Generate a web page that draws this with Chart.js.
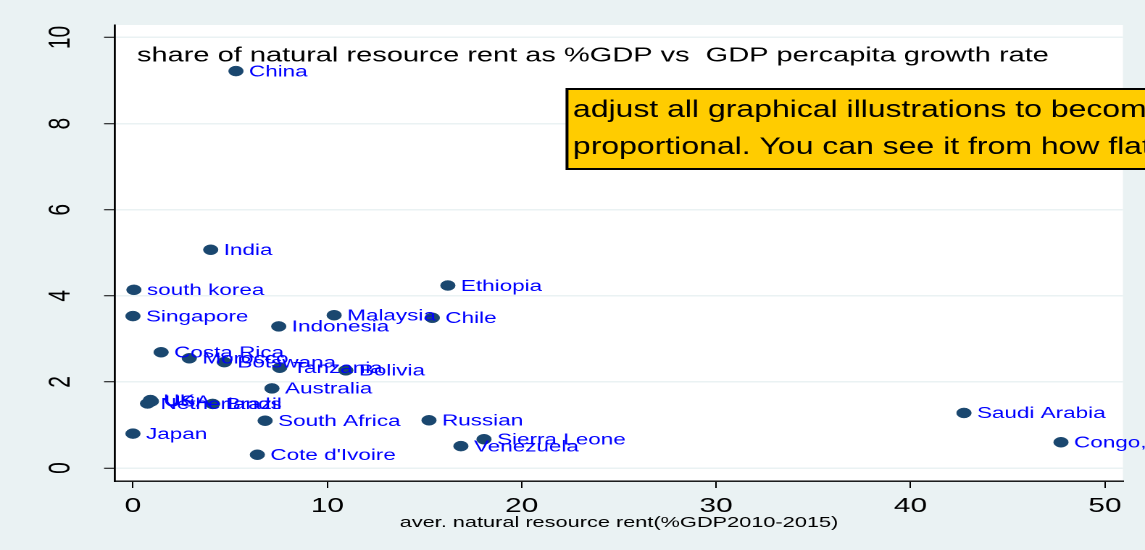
<!DOCTYPE html>
<html><head><meta charset="utf-8">
<script src="https://cdn.jsdelivr.net/npm/chart.js@4"></script>
<style>
html,body{margin:0;padding:0;overflow:hidden;background:#EAF2F3;width:1145px;height:550px}
#wrap{position:absolute;left:0;top:0;width:790px;height:550px;transform:scaleX(1.449367);transform-origin:0 0}
canvas{display:block}
</style></head><body>
<div id="wrap"><canvas id="c" width="790" height="550"></canvas></div>
<script>
const countries = ["China","India","south korea","Singapore","Ethiopia","Malaysia","Chile","Indonesia","Costa Rica","Morocco","Botswana","Tanzania","Bolivia","Australia","UK","USA","Netherlands","Brazil","South Africa","Japan","Cote d'Ivoire","Russian","Sierra Leone","Venezuela","Saudi Arabia","Congo,"];
const rentValues = [5.3,4.0,0.05,0.0,16.2,10.35,15.4,7.5,1.45,2.9,4.7,7.55,10.95,7.15,0.9,0.95,0.75,4.1,6.8,0.0,6.4,15.23,18.06,16.87,42.75,47.74];
const growthValues = [9.22,5.07,4.14,3.53,4.24,3.55,3.49,3.29,2.69,2.55,2.46,2.33,2.27,1.85,1.58,1.55,1.5,1.49,1.1,0.8,0.31,1.11,0.67,0.51,1.28,0.6];
const xTickValues = [0,10,20,30,40,50];
const yTickValues = [0,2,4,6,8,10];
const chartTitle = "share of natural resource rent as %GDP vs  GDP percapita growth rate";
const xAxisTitle = "aver. natural resource rent(%GDP2010-2015)";
const noteLines = ["adjust all graphical illustrations to become", "proportional. You can see it from how flat"];

const FONT = '"Liberation Sans", Arial, sans-serif';
const BG = '#EAF2F3';
const NAVY = '#1A476F';

const bgPlugin = {
  id: 'bgPlugin',
  beforeDraw(chart) {
    const {ctx, chartArea: a} = chart;
    ctx.save();
    ctx.fillStyle = BG;
    ctx.fillRect(0, 0, chart.width, chart.height);
    ctx.fillStyle = '#FFFFFF';
    ctx.fillRect(a.left, a.top, a.right - a.left, a.bottom - a.top);
    ctx.restore();
  }
};

const labelPlugin = {
  id: 'labelPlugin',
  afterDatasetsDraw(chart) {
    const ctx = chart.ctx;
    const meta = chart.getDatasetMeta(0);
    ctx.save();
    ctx.font = '15.5px ' + FONT;
    ctx.fillStyle = '#0000FF';
    ctx.textBaseline = 'middle';
    ctx.textAlign = 'left';
    meta.data.forEach((pt, i) => ctx.fillText(countries[i], pt.x + 9, pt.y + 1));
    ctx.restore();
  },
  afterDraw(chart) {
    const ctx = chart.ctx;
    const a = chart.chartArea;
    ctx.save();
    ctx.fillStyle = '#000';
    ctx.textBaseline = 'alphabetic';
    ctx.textAlign = 'left';
    ctx.font = '20px ' + FONT;
    ctx.fillText(chartTitle, a.left + 15.2, 61.5);
    // note box
    ctx.fillStyle = '#FFCC00';
    ctx.fillRect(391.2, 89, 420, 80);
    ctx.strokeStyle = '#000';
    ctx.lineWidth = 2;
    ctx.strokeRect(391.2, 89, 420, 80);
    ctx.fillStyle = '#000';
    ctx.font = '24.5px ' + FONT;
    const k = 0.9;
    ctx.translate(395.3, 0);
    ctx.scale(k, 1);
    ctx.fillText(noteLines[0], 0, 117);
    ctx.fillText(noteLines[1], 0, 154);
    ctx.restore();
  }
};

new Chart(document.getElementById('c'), {
  type: 'scatter',
  data: {
    datasets: [{
      data: rentValues.map((x, i) => ({x: x, y: growthValues[i]})),
      backgroundColor: NAVY,
      borderColor: NAVY,
      borderWidth: 0.5,
      pointRadius: 5,
      pointHoverRadius: 5
    }]
  },
  options: {
    responsive: false,
    animation: false,
    devicePixelRatio: 2,
    events: [],
    layout: {padding: {left: 0, right: 15.2, top: 25, bottom: 0}},
    plugins: {legend: {display: false}, tooltip: {enabled: false}, title: {display: false}},
    scales: {
      x: {
        type: 'linear',
        min: -0.926, max: 50.93,
        afterBuildTicks(s) { s.ticks = xTickValues.map(v => ({value: v})); },
        afterFit(s) { s.height = 69; s.paddingLeft = 0; s.paddingRight = 0; },
        border: {display: true, color: '#000', width: 1.4},
        grid: {display: true, drawOnChartArea: false, drawTicks: true, tickLength: 7, tickColor: '#000', tickWidth: 1},
        ticks: {color: '#000', font: {family: FONT, size: 20.5}, padding: 6, maxRotation: 0, autoSkip: false},
        title: {display: true, text: xAxisTitle, color: '#000', font: {family: FONT, size: 15}, padding: {top: 0, bottom: 18}}
      },
      y: {
        type: 'linear',
        min: -0.30, max: 10.29,
        afterBuildTicks(s) { s.ticks = yTickValues.map(v => ({value: v})); },
        afterFit(s) { s.width = 79.3; s.paddingTop = 0; s.paddingBottom = 0; },
        border: {display: true, color: '#000', width: 1.4},
        grid: {display: true, drawOnChartArea: true, color: BG, lineWidth: 1.5, drawTicks: true, tickLength: 7.5, tickColor: '#000', tickWidth: 1},
        ticks: {color: '#000', font: {family: FONT, size: 21}, padding: 18, minRotation: 90, maxRotation: 90, crossAlign: 'center', autoSkip: false}
      }
    }
  },
  plugins: [bgPlugin, labelPlugin]
});
</script>
</body></html>
